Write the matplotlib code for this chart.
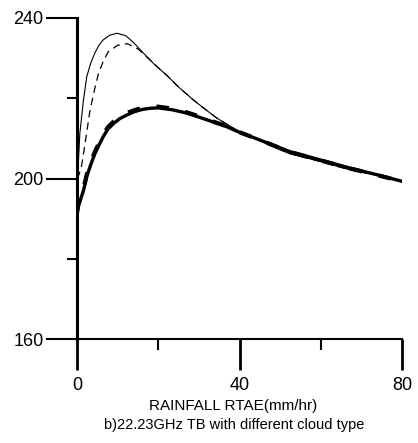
import matplotlib
matplotlib.use("Agg")
import matplotlib.pyplot as plt

# ---- data ----
thin_rain = [0, 0.3, 0.7, 1.6, 2.4, 3.4, 4.4, 5.4, 6.4, 8, 9.8, 12, 14, 16.3, 19, 22,
             25, 28.6, 31.5, 34.5, 39.4, 45, 52, 60, 67, 74, 80]
thin_tb = [201, 203, 211.3, 219.6, 225.4, 228.8, 231.3, 233.2, 234.5, 235.7, 236.2,
           235.6, 233.8, 231.3, 228.5, 225.8, 222.8, 219.6, 217.3, 215.0, 212.0,
           209.4, 206.3, 204.2, 202.2, 200.8, 199.3]

dash_rain = [0, 0.5, 1.1, 2.0, 3.2, 4.4, 5.3, 6.5, 7.7, 10, 12.4, 15, 17.5, 20, 22,
             25, 28.6, 31.5, 34.5, 39.4, 45, 52, 60, 67, 74, 80]
dash_tb = [200, 201, 203, 208.8, 217, 222.5, 226.2, 229.3, 231.6, 233.2, 233.6, 232.3,
           230.0, 227.6, 225.8, 222.8, 219.6, 217.3, 215.0, 212.0, 209.4, 206.3,
           204.2, 202.2, 200.8, 199.3]

thick_rain = [0, 0.3, 1.6, 2.4, 3.4, 4.4, 5.5, 6.5, 7.6, 9, 10.5, 12.2, 14, 16, 18, 20,
              23.6, 27, 30.3, 33.5, 36.9, 39.3, 45, 52.4, 60, 67.2, 74, 80]
thick_tb = [191, 193, 197, 200.5, 203.5, 206.2, 208.5, 210.5, 212.3, 213.7, 214.9,
            215.8, 216.6, 217.2, 217.5, 217.6, 217.1, 216.3, 215.2, 214.1, 212.9,
            211.8, 209.6, 206.7, 204.6, 202.6, 200.9, 199.3]

thick2_tb = [191.5, 193.5, 197.5, 201.0, 204.0, 206.7, 209.0, 211.0, 212.8, 214.2, 215.4,
             216.3, 217.0, 217.6, 217.9, 217.9, 217.4, 216.5, 215.4, 214.2, 213.0,
             211.8, 209.6, 206.6, 204.5, 202.5, 200.8, 199.3]

x_major = [0, 40, 80]
x_minor = [20, 60]
y_major = [160, 200, 240]
y_minor = [180, 220]

xlabel = "RAINFALL RTAE(mm/hr)"
caption = "b)22.23GHz TB with different cloud type"

plt.rcParams['font.family'] = ['Liberation Sans', 'DejaVu Sans']

fig = plt.figure(figsize=(4.18, 4.43), dpi=100)
ax = fig.add_axes([77/418, 1-339/443, 325/418, 321/443])

ax.plot(thin_rain, thin_tb, color='black', lw=0.8)
ax.plot(dash_rain, dash_tb, color='black', lw=0.9, dashes=(6, 4))
ax.plot(thick_rain, thick_tb, color='black', lw=2.4, solid_capstyle='round')
ax.plot(thick_rain, thick2_tb, color='black', lw=3.0, dashes=(3, 4))

ax.set_xlim(0, 80)
ax.set_ylim(160, 240)
for s in ['top', 'right']:
    ax.spines[s].set_visible(False)
ax.spines['left'].set_linewidth(2.2)
ax.spines['bottom'].set_linewidth(1.5)

ax.set_xticks(x_major)
ax.set_xticks(x_minor, minor=True)
ax.set_yticks(y_major)
ax.set_yticks(y_minor, minor=True)
ax.tick_params(axis='x', which='major', direction='out', length=22, width=2.0,
               pad=5, labelsize=13)
ax.tick_params(axis='x', which='minor', direction='out', length=8, width=1.5)
ax.tick_params(axis='y', which='major', direction='out', length=22, width=1.5,
               pad=2, labelsize=13)
ax.tick_params(axis='y', which='minor', direction='out', length=7, width=1.5)

for t in ax.xaxis.get_major_ticks():
    if abs(t.get_loc() - 40) < 1e-6:
        t.tick1line.set_markersize(15)

fig.text(233/418, 1-406/443, xlabel, ha='center', va='center', fontsize=11)
fig.text(234/418, 1-425/443, caption, ha='center', va='center', fontsize=10.5)

fig.savefig("out.png", dpi=100)
